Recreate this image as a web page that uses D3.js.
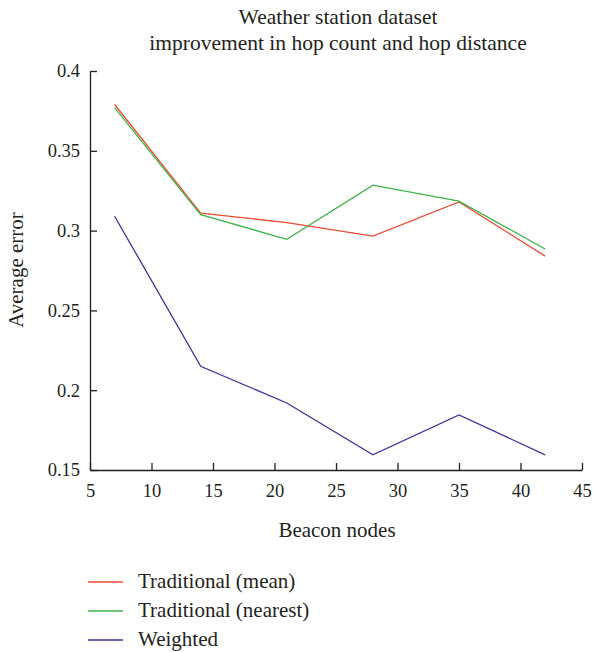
<!DOCTYPE html>
<html>
<head>
<meta charset="utf-8">
<script src="https://cdn.jsdelivr.net/npm/d3@7"></script>
<style>
  body { margin: 0; background: #fff; }
  text { font-family: "Liberation Serif", "DejaVu Serif", serif; fill: #231f20; }
</style>
</head>
<body>
<div id="chart"></div>
<script>
// data
var beacons = [7, 14, 21, 28, 35, 42];
var tradMean = [0.379, 0.311, 0.305, 0.2965, 0.318, 0.284];
var tradNearest = [0.377, 0.310, 0.2945, 0.3285, 0.3185, 0.2885];
var weighted = [0.309, 0.215, 0.192, 0.1595, 0.1845, 0.1595];
var xTicks = [5, 10, 15, 20, 25, 30, 35, 40, 45];
var yTicks = [0.15, 0.2, 0.25, 0.3, 0.35, 0.4];

var series = [
  { name: "Traditional (mean)", values: tradMean, color: "#ef4b32" },
  { name: "Traditional (nearest)", values: tradNearest, color: "#3db54a" },
  { name: "Weighted", values: weighted, color: "#3b34a0" }
];

var svgWidth = 595, svgHeight = 652;
var margin = { top: 71, right: 13, bottom: 182, left: 90 };
var width = svgWidth - margin.left - margin.right;
var height = svgHeight - margin.top - margin.bottom;

var svg = d3.select("#chart").append("svg")
  .attr("width", svgWidth)
  .attr("height", svgHeight);

var g = svg.append("g")
  .attr("transform", `translate(${margin.left}, ${margin.top})`);

var x = d3.scaleLinear().domain([5, 45]).range([0, width]);
var y = d3.scaleLinear().domain([0.15, 0.4]).range([height, 0]);

// axes, ticks pointing inward
var xAxis = g.append("g")
  .attr("transform", `translate(0, ${height})`)
  .call(d3.axisBottom(x).tickValues(xTicks).tickSizeInner(-7).tickSizeOuter(0).tickPadding(14));
var yAxis = g.append("g")
  .call(d3.axisLeft(y).tickValues(yTicks).tickFormat(d3.format("")).tickSizeInner(-7).tickSizeOuter(0).tickPadding(10));

[xAxis, yAxis].forEach(function(a) {
  a.attr("font-family", null).style("font-family", "'Liberation Serif', serif");
  a.select(".domain").attr("stroke", "#231f20").attr("stroke-width", 1.3);
  a.selectAll(".tick line").attr("stroke", "#231f20").attr("stroke-width", 1.3);
  a.selectAll(".tick text")
    .style("font-family", "'Liberation Serif', serif")
    .style("font-size", "18.5px")
    .attr("fill", "#231f20");
});

// lines
var line = d3.line()
  .x(function(d, i) { return x(beacons[i]); })
  .y(function(d) { return y(d); });

series.forEach(function(s) {
  g.append("path")
    .datum(s.values)
    .attr("fill", "none")
    .attr("stroke", s.color)
    .attr("stroke-width", 1.3)
    .attr("d", line);
});

// titles
svg.append("text").attr("x", 338).attr("y", 24).attr("text-anchor", "middle")
  .attr("font-size", "21.5px").text("Weather station dataset");
svg.append("text").attr("x", 338).attr("y", 50).attr("text-anchor", "middle")
  .attr("font-size", "21.5px").text("improvement in hop count and hop distance");

svg.append("text").attr("x", 337).attr("y", 537).attr("text-anchor", "middle")
  .attr("font-size", "21px").text("Beacon nodes");

svg.append("text")
  .attr("transform", "translate(23, 270) rotate(-90)")
  .attr("text-anchor", "middle")
  .attr("font-size", "21px").text("Average error");

// legend
var legend = svg.append("g").attr("transform", "translate(88, 582)");
series.forEach(function(s, i) {
  var row = legend.append("g").attr("transform", `translate(0, ${i * 29})`);
  row.append("line").attr("x1", 0).attr("x2", 35).attr("y1", 0).attr("y2", 0)
    .attr("stroke", s.color).attr("stroke-width", 1.3);
  row.append("text").attr("x", 50).attr("y", 6).attr("font-size", "21px").text(s.name);
});
</script>
</body>
</html>
